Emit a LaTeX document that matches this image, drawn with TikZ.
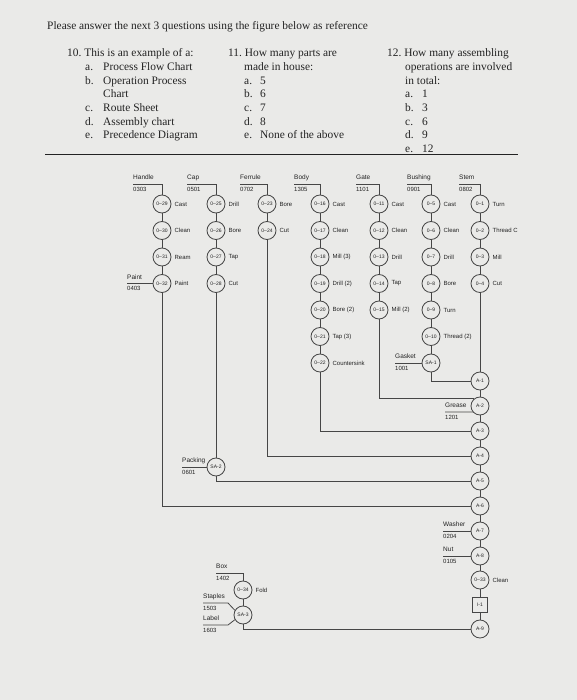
\documentclass[tikz,border=0pt]{standalone}
\usepackage{fontspec}
\setmainfont{Liberation Serif}
\setsansfont{Liberation Sans}
\usetikzlibrary{positioning}
\definecolor{clrL}{RGB}{70,70,70}
\definecolor{clrT}{RGB}{35,35,35}
\definecolor{bgP}{RGB}{234,234,232}
\tikzset{
  op/.style={circle,draw=clrL,fill=bgP,line width=0.85pt,minimum size=18pt,
    inner sep=0pt,font=\fontsize{5}{6}\sffamily,text=clrT},
  insp/.style={rectangle,draw=clrL,fill=bgP,line width=0.85pt,minimum size=15pt,
    inner sep=0pt,font=\fontsize{5}{6}\sffamily,text=clrT},
  oplbl/.style={font=\fontsize{6}{7}\sffamily,text=clrT,inner sep=1pt},
  part/.style={anchor=south west,font=\fontsize{6.5}{7.5}\sffamily,text=clrT,
    text depth=0pt,inner xsep=0pt,inner ysep=4pt},
  code/.style={anchor=north west,font=\fontsize{6}{7}\sffamily,text=clrT,
    inner xsep=0pt,inner ysep=3pt},
  flow/.style={draw=clrL,line width=0.8pt},
  qtext/.style={font=\fontsize{11.4}{13.7}\selectfont,text=clrT,inner sep=0pt}
}
\begin{document}
\begin{tikzpicture}[x=1pt,y=-1pt]
  \fill[bgP] (0,0) rectangle (577,700);
  \useasboundingbox (0,0) rectangle (577,700);
  \def\xH{162}
  \def\xC{216}
  \def\xF{267}
  \def\xB{320}
  \def\xG{379}
  \def\xU{431}
  \def\xS{480}
  % questions
  \node[qtext,anchor=base west] (hdr) at (47,29.5)
    {Please answer the next 3 questions using the figure below as reference};
  \node[qtext,anchor=north west] (q10) at (67,46.9)
    {\begin{tabular}{@{}p{18pt}@{}p{18pt}@{}l@{}}
     \multicolumn{3}{@{}l@{}}{10.\ This is an example of a:}\\
     & a. & Process Flow Chart\\
     & b. & Operation Process\\
     &    & Chart\\
     & c. & Route Sheet\\
     & d. & Assembly chart\\
     & e. & Precedence Diagram
     \end{tabular}};
  \node[qtext,anchor=north west] (q11) at (228,46.9)
    {\begin{tabular}{@{}p{16pt}@{}p{16pt}@{}l@{}}
     \multicolumn{3}{@{}l@{}}{11.\ How many parts are}\\
     & \multicolumn{2}{@{}l@{}}{made in house:}\\
     & a. & 5\\
     & b. & 6\\
     & c. & 7\\
     & d. & 8\\
     & e. & None of the above
     \end{tabular}};
  \node[qtext,anchor=north west] (q12) at (387,46.9)
    {\begin{tabular}{@{}p{18pt}@{}p{17pt}@{}l@{}}
     \multicolumn{3}{@{}l@{}}{12.\ How many assembling}\\
     & \multicolumn{2}{@{}l@{}}{operations are involved}\\
     & \multicolumn{2}{@{}l@{}}{in total:}\\
     & a. & 1\\
     & b. & 3\\
     & c. & 6\\
     & d. & 9\\
     & e. & 12
     \end{tabular}};
  \draw[clrT,line width=1.4pt] (45,154.5) -- (518,154.5);
  % Handle
  \node[part] (pH) at (133,184) {Handle};
  \node[code] (cH) at (pH.south west) {0303};
  \node[op] (o29) at (\xH,204) {0--29};
  \node[op] (o30) at (\xH,230.5) {0--30};
  \node[op] (o31) at (\xH,257) {0--31};
  \node[op] (o32) at (\xH,283.5) {0--32};
  \node[oplbl,right=2pt of o29] (l29) {Cast};
  \node[oplbl,right=2pt of o30] (l30) {Clean};
  \node[oplbl,right=2pt of o31] (l31) {Ream};
  \node[oplbl,right=2pt of o32] (l32) {Paint};
  \node[part] (pP) at (127,283.5) {Paint};
  \node[code] (cP) at (pP.south west) {0403};
  % Cap
  \node[part] (pC) at (187,184) {Cap};
  \node[code] (cC) at (pC.south west) {0501};
  \node[op] (o25) at (\xC,204) {0--25};
  \node[op] (o26) at (\xC,230.5) {0--26};
  \node[op] (o27) at (\xC,257) {0--27};
  \node[op] (o28) at (\xC,283.5) {0--28};
  \node[oplbl,right=2pt of o25] (l25) {Drill};
  \node[oplbl,right=2pt of o26] (l26) {Bore};
  \node[oplbl,right=2pt of o27] (l27) {Tap};
  \node[oplbl,right=2pt of o28] (l28) {Cut};
  % Ferrule
  \node[part] (pF) at (240,184) {Ferrule};
  \node[code] (cF) at (pF.south west) {0702};
  \node[op] (o23) at (\xF,204) {0--23};
  \node[op] (o24) at (\xF,230.5) {0--24};
  \node[oplbl,right=2pt of o23] (l23) {Bore};
  \node[oplbl,right=2pt of o24] (l24) {Cut};
  % Body
  \node[part] (pB) at (294,184) {Body};
  \node[code] (cB) at (pB.south west) {1305};
  \node[op] (o16) at (\xB,204) {0--16};
  \node[op] (o17) at (\xB,230.5) {0--17};
  \node[op] (o18) at (\xB,257) {0--18};
  \node[op] (o19) at (\xB,283.5) {0--19};
  \node[op] (o20) at (\xB,310) {0--20};
  \node[op] (o21) at (\xB,336.5) {0--21};
  \node[op] (o22) at (\xB,363) {0--22};
  \node[oplbl,right=2pt of o16] (l16) {Cast};
  \node[oplbl,right=2pt of o17] (l17) {Clean};
  \node[oplbl,right=2pt of o18] (l18) {Mill (3)};
  \node[oplbl,right=2pt of o19] (l19) {Drill (2)};
  \node[oplbl,right=2pt of o20] (l20) {Bore (2)};
  \node[oplbl,right=2pt of o21] (l21) {Tap (3)};
  \node[oplbl,right=2pt of o22] (l22) {Countersink};
  % Gate
  \node[part] (pG) at (356,184) {Gate};
  \node[code] (cG) at (pG.south west) {1101};
  \node[op] (o11) at (\xG,204) {0--11};
  \node[op] (o12) at (\xG,230.5) {0--12};
  \node[op] (o13) at (\xG,257) {0--13};
  \node[op] (o14) at (\xG,283.5) {0--14};
  \node[op] (o15) at (\xG,310) {0--15};
  \node[oplbl,right=2pt of o11] (l11) {Cast};
  \node[oplbl,right=2pt of o12] (l12) {Clean};
  \node[oplbl,right=2pt of o13] (l13) {Drill};
  \node[oplbl,right=2pt of o14] (l14) {Tap};
  \node[oplbl,right=2pt of o15] (l15) {Mill (2)};
  % Bushing
  \node[part] (pU) at (407,184) {Bushing};
  \node[code] (cU) at (pU.south west) {0901};
  \node[op] (o5) at (\xU,204) {0--5};
  \node[op] (o6) at (\xU,230.5) {0--6};
  \node[op] (o7) at (\xU,257) {0--7};
  \node[op] (o8) at (\xU,283.5) {0--8};
  \node[op] (o9) at (\xU,310) {0--9};
  \node[op] (o10) at (\xU,336.5) {0--10};
  \node[op] (sa1) at (\xU,363) {SA-1};
  \node[oplbl,right=2pt of o5] (l5) {Cast};
  \node[oplbl,right=2pt of o6] (l6) {Clean};
  \node[oplbl,right=2pt of o7] (l7) {Drill};
  \node[oplbl,right=2pt of o8] (l8) {Bore};
  \node[oplbl,right=2pt of o9] (l9) {Turn};
  \node[oplbl,right=2pt of o10] (l10) {Thread (2)};
  \node[part] (pK) at (395,363) {Gasket};
  \node[code] (cK) at (pK.south west) {1001};
  % Stem
  \node[part] (pS) at (459,184) {Stem};
  \node[code] (cS) at (pS.south west) {0802};
  \node[op] (o1) at (\xS,204) {0--1};
  \node[op] (o2) at (\xS,230.5) {0--2};
  \node[op] (o3) at (\xS,257) {0--3};
  \node[op] (o4) at (\xS,283.5) {0--4};
  \node[oplbl,right=2pt of o1] (l1) {Turn};
  \node[oplbl,right=2pt of o2] (l2) {Thread C};
  \node[oplbl,right=2pt of o3] (l3) {Mill};
  \node[oplbl,right=2pt of o4] (l4) {Cut};
  % assembly line
  \node[op] (a1) at (\xS,381) {A-1};
  \node[op] (a2) at (\xS,406) {A-2};
  \node[op] (a3) at (\xS,431) {A-3};
  \node[op] (a4) at (\xS,456) {A-4};
  \node[op] (a5) at (\xS,481) {A-5};
  \node[op] (a6) at (\xS,506) {A-6};
  \node[op] (a7) at (\xS,531) {A-7};
  \node[op] (a8) at (\xS,556) {A-8};
  \node[op] (o33) at (\xS,580) {0--33};
  \node[insp] (i1) at (\xS,605) {I-1};
  \node[op] (a9) at (\xS,629) {A-9};
  \node[oplbl,right=2pt of o33] (l33) {Clean};
  \node[part] (pR) at (445,412) {Grease};
  \node[code] (cR) at (pR.south west) {1201};
  \node[part] (pW) at (443,531) {Washer};
  \node[code] (cW) at (pW.south west) {0204};
  \node[part] (pN) at (443,556) {Nut};
  \node[code] (cN) at (pN.south west) {0105};
  % packing and box
  \node[op] (sa2) at (\xC,467) {SA-2};
  \node[part] (pQ) at (182,467) {Packing};
  \node[code] (cQ) at (pQ.south west) {0601};
  \node[part] (pX) at (216,573) {Box};
  \node[code] (cX) at (pX.south west) {1402};
  \node[op] (o34) at (243,590) {0--34};
  \node[oplbl,right=2pt of o34] (l34) {Fold};
  \node[op] (sa3) at (243,615) {SA-3};
  \node[part] (pT) at (203,603) {Staples};
  \node[code] (cT) at (pT.south west) {1503};
  \node[part] (pL) at (203,625) {Label};
  \node[code] (cL) at (pL.south west) {1603};
  % connectors
  \draw[flow] (pH.south west) -| (o29);
  \draw[flow] (o29) -- (o30) -- (o31) -- (o32);
  \draw[flow] (pP.south west) -- (o32);
  \draw[flow] (pC.south west) -| (o25);
  \draw[flow] (o25) -- (o26) -- (o27) -- (o28) -- (sa2);
  \draw[flow] (pF.south west) -| (o23);
  \draw[flow] (o23) -- (o24);
  \draw[flow] (pB.south west) -| (o16);
  \draw[flow] (o16) -- (o17) -- (o18) -- (o19) -- (o20) -- (o21) -- (o22);
  \draw[flow] (pG.south west) -| (o11);
  \draw[flow] (o11) -- (o12) -- (o13) -- (o14) -- (o15);
  \draw[flow] (pU.south west) -| (o5);
  \draw[flow] (o5) -- (o6) -- (o7) -- (o8) -- (o9) -- (o10) -- (sa1);
  \draw[flow] (pK.south west) -- (sa1);
  \draw[flow] (pS.south west) -| (o1);
  \draw[flow] (o1) -- (o2) -- (o3) -- (o4) -- (a1);
  \draw[flow] (a1) -- (a2) -- (a3) -- (a4) -- (a5) -- (a6) -- (a7) -- (a8)
    -- (o33) -- (i1) -- (a9);
  \draw[flow] (sa1) |- (a1);
  \draw[flow] (o15) |- (a2.130);
  \draw[flow] (pR.south west) -- (a2.220);
  \draw[flow] (o22) |- (a3);
  \draw[flow] (o24) |- (a4);
  \draw[flow] (pQ.south west) -- (sa2);
  \draw[flow] (sa2) |- (a5);
  \draw[flow] (o32) |- (a6);
  \draw[flow] (pW.south west) -- (a7);
  \draw[flow] (pN.south west) -- (a8);
  \draw[flow] (pX.south west) -| (o34);
  \draw[flow] (o34) -- (sa3);
  \draw[flow] (pT.south west) -- ++(25,0) -- (sa3.150);
  \draw[flow] (pL.south west) -- ++(25,0) -- (sa3.210);
  \draw[flow] (sa3) |- (a9);
\end{tikzpicture}
\end{document}
